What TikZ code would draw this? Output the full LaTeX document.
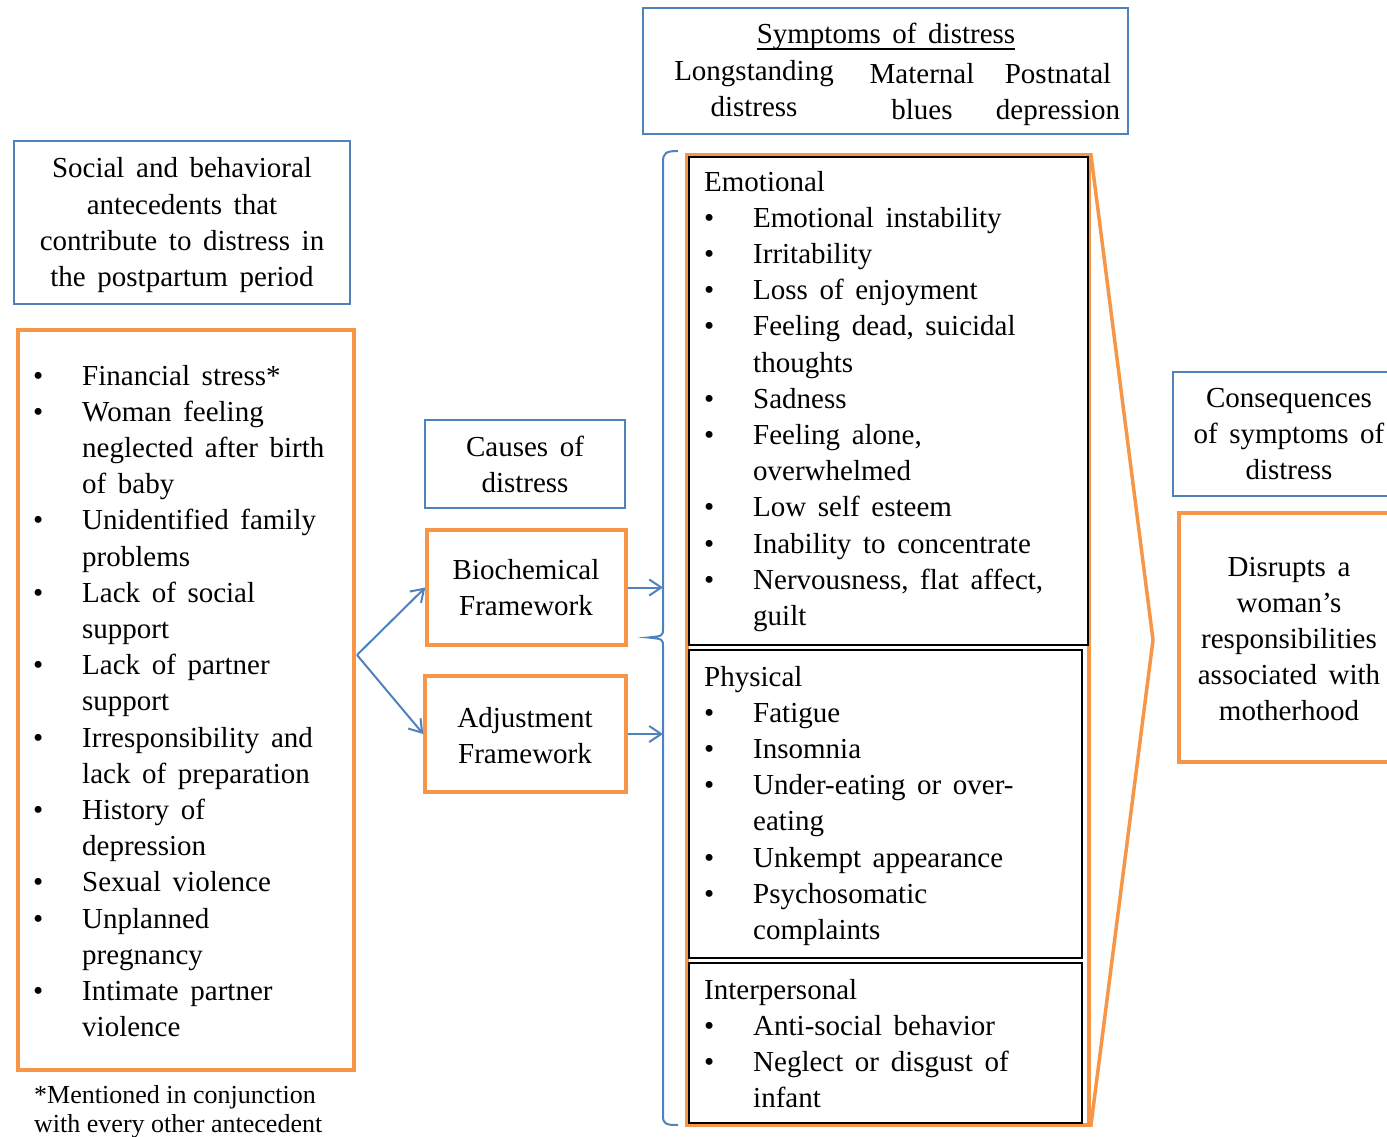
\documentclass[tikz,border=0pt]{standalone}
\usepackage{fontspec}
\setmainfont{Liberation Serif}[WordSpace=1.6]
\newfontfamily\plainserif{Liberation Serif}
\usetikzlibrary{arrows.meta}
\definecolor{cblue}{RGB}{79,129,189}
\definecolor{corange}{RGB}{247,150,70}
\begin{document}
\begin{tikzpicture}[x=1pt,y=-1pt,
  blueb/.style={draw=cblue,line width=2pt,inner sep=0pt},
  orab/.style={draw=corange,line width=3.5pt,inner sep=0pt},
  blkb/.style={draw=black,line width=2pt,inner sep=0pt},
  txt/.style={font=\fontsize{29}{36.2}\selectfont,inner sep=0pt,anchor=base},
  ltxt/.style={txt,anchor=base west},
  foot/.style={font=\plainserif\fontsize{26}{30}\selectfont,inner sep=0pt,anchor=base west},
  arr/.style={draw=cblue,line width=2pt,-{Straight Barb[length=12pt,width=16pt]}},
  bluel/.style={draw=cblue,line width=2pt}]
\useasboundingbox (0,0) rectangle (1387,1137);
\clip (0,0) rectangle (1387,1137);

% ---------- boxes ----------
\node[blueb,minimum width=336,minimum height=163] (soc) at (182,222.5) {};
\node[orab,minimum width=336,minimum height=740] (ante) at (186,700) {};
\node[blueb,minimum width=200,minimum height=88] (cause) at (525,464) {};
\node[orab,minimum width=199,minimum height=115] (bio) at (526.5,587.5) {};
\node[orab,minimum width=201,minimum height=116] (adj) at (525.5,734) {};
\node[blueb,minimum width=485,minimum height=126] (symp) at (885.5,71) {};
\node[orab,minimum width=402,minimum height=970] (symbox) at (888,640) {};
\node[blkb,minimum width=399,minimum height=488] (emo) at (888.5,401) {};
\node[blkb,minimum width=393,minimum height=308] (phy) at (885.5,804) {};
\node[blkb,minimum width=393,minimum height=160] (inter) at (885.5,1043) {};
\coordinate (tip) at (1153,640);
\draw[corange,line width=3.5pt,line join=miter] (symbox.north east) -- (tip) -- (symbox.south east);
\node[blueb,minimum width=227,minimum height=124] (cons) at (1286.5,434) {};
\node[orab,minimum width=221,minimum height=249] (disr) at (1289.5,637.5) {};

% ---------- brace ----------
\coordinate (btop) at (678,151);
\coordinate (bbot) at (678,1125);
\coordinate (bx) at (663,637);
\draw[bluel] (btop) .. controls (666,151) and (663,153) .. (663,162)
  -- (663,628) .. controls (663,636) .. (648,637.5)
  .. controls (663,639) .. (663,647) -- (663,1116)
  .. controls (663,1124) and (666,1125) .. (bbot);

% ---------- connectors ----------
\coordinate (fork) at (357,655);
\draw[arr] (fork) -- (bio.west);
\draw[arr] (fork) -- (adj.west);
\draw[arr] (bio.east) -- (bio.east -| bx);
\draw[arr] (adj.east) -- (adj.east -| bx);

% ---------- header texts ----------
\node[txt] (soc1) at (182,178) {Social and behavioral};
\node[txt] (soc2) at (182,214) {antecedents that};
\node[txt] (soc3) at (182,250) {contribute to distress in};
\node[txt] (soc4) at (182,286) {the postpartum period};

\node[txt] (cause1) at (525,456) {Causes of};
\node[txt] (cause2) at (525,492) {distress};
\node[txt] (bio1) at (526,579) {Biochemical};
\node[txt] (bio2) at (526,615) {Framework};
\node[txt] (adj1) at (525,727) {Adjustment};
\node[txt] (adj2) at (525,763) {Framework};

\node[txt] (title) at (886,44) {Symptoms of distress};
\draw[line width=1.3pt] ([yshift=-5pt]title.base west) -- ([yshift=-5pt]title.base east);
\node[txt] (c1a) at (754,81) {Longstanding};
\node[txt] (c1b) at (754,117) {distress};
\node[txt] (c2a) at (922,84) {Maternal};
\node[txt] (c2b) at (922,120) {blues};
\node[txt] (c3a) at (1058,84) {Postnatal};
\node[txt] (c3b) at (1058,120) {depression};

\node[txt] (cons1) at (1289,407) {Consequences};
\node[txt] (cons2) at (1289,443) {of symptoms of};
\node[txt] (cons3) at (1289,479) {distress};

\node[txt] (dis1) at (1289,576) {Disrupts a};
\node[txt] (dis2) at (1289,612) {woman’s};
\node[txt] (dis3) at (1289,648) {responsibilities};
\node[txt] (dis4) at (1289,684) {associated with};
\node[txt] (dis5) at (1289,720) {motherhood};

% ---------- left list ----------
\foreach \k/\b/\t in {0/1/{Financial stress*},1/1/{Woman feeling},2/0/{neglected after birth},
  3/0/{of baby},4/1/{Unidentified family},5/0/{problems},6/1/{Lack of social},7/0/{support},
  8/1/{Lack of partner},9/0/{support},10/1/{Irresponsibility and},11/0/{lack of preparation},
  12/1/{History of},13/0/{depression},14/1/{Sexual violence},15/1/{Unplanned},16/0/{pregnancy},
  17/1/{Intimate partner},18/0/{violence}}{
  \node[ltxt] (ant\k) at (82,{385+36.2*\k}) {\t};
  \ifnum\b=1 \node[ltxt] (antb\k) at (33,{385+36.2*\k}) {\textbullet};\fi
}
\node[foot] (fn1) at (34,1103) {*Mentioned in conjunction};
\node[foot] (fn2) at (34,1132) {with every other antecedent};

% ---------- emotional ----------
\node[ltxt] (emoh) at (704,191) {Emotional};
\foreach \k/\b/\t in {1/1/{Emotional instability},2/1/{Irritability},3/1/{Loss of enjoyment},
  4/1/{Feeling dead, suicidal},5/0/{thoughts},6/1/{Sadness},7/1/{Feeling alone,},8/0/{overwhelmed},
  9/1/{Low self esteem},10/1/{Inability to concentrate},11/1/{Nervousness, flat affect,},12/0/{guilt}}{
  \node[ltxt] (emo\k) at (753,{191+36.2*\k}) {\t};
  \ifnum\b=1 \node[ltxt] (emob\k) at (704,{191+36.2*\k}) {\textbullet};\fi
}

% ---------- physical ----------
\node[ltxt] (phyh) at (704,686) {Physical};
\foreach \k/\b/\t in {1/1/{Fatigue},2/1/{Insomnia},3/1/{Under-eating or over-},4/0/{eating},
  5/1/{Unkempt appearance},6/1/{Psychosomatic},7/0/{complaints}}{
  \node[ltxt] (phy\k) at (753,{686+36.2*\k}) {\t};
  \ifnum\b=1 \node[ltxt] (phyb\k) at (704,{686+36.2*\k}) {\textbullet};\fi
}

% ---------- interpersonal ----------
\node[ltxt] (inth) at (704,999) {Interpersonal};
\foreach \k/\b/\t in {1/1/{Anti-social behavior},2/1/{Neglect or disgust of},3/0/{infant}}{
  \node[ltxt] (int\k) at (753,{999+36.2*\k}) {\t};
  \ifnum\b=1 \node[ltxt] (intb\k) at (704,{999+36.2*\k}) {\textbullet};\fi
}
\end{tikzpicture}
\end{document}
